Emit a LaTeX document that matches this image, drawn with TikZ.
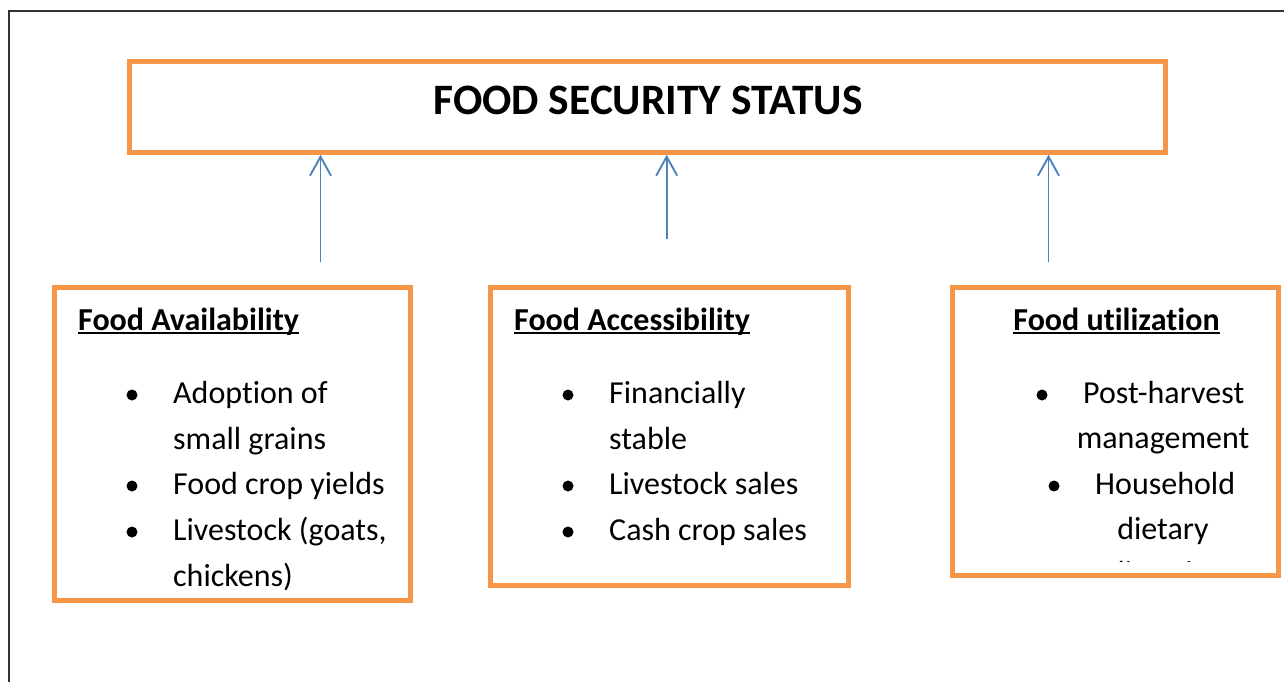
\documentclass[tikz,border=0pt]{standalone}
\usepackage{fontspec}
\setmainfont{Carlito}[Ligatures={NoCommon}]
\usetikzlibrary{arrows.meta}
\definecolor{boxorange}{HTML}{F79646}
\definecolor{arrblue}{HTML}{4F81BD}
\definecolor{framegray}{HTML}{333333}
\tikzset{
  obox/.style={draw=boxorange, line width=4.5pt, rectangle, inner sep=0pt},
  titletext/.style={inner sep=0pt, anchor=base, font=\fontsize{43.4}{50}\selectfont\bfseries},
  headtext/.style={inner sep=0pt, anchor=base west, font=\fontsize{32}{38}\selectfont\bfseries},
  itemtext/.style={inner sep=0pt, anchor=base west, font=\fontsize{32}{38}\selectfont},
  itemc/.style={inner sep=0pt, anchor=base, font=\fontsize{32}{38}\selectfont},
  bul/.style={circle, fill=black, inner sep=0pt, minimum size=11pt},
  uline/.style={line width=2pt, black},
  upline/.style={draw=arrblue, line width=1.9pt, -{Straight Barb[length=19pt,width=21pt,line width=1.9pt]}},
  frameline/.style={draw=framegray, line width=1.2pt}
}
\begin{document}
\begin{tikzpicture}[x=1pt,y=-1pt]
\useasboundingbox (0,0) rectangle (1284,682);
\fill[white] (0,0) rectangle (1284,682);
% outer frame
\draw[frameline] (9,690) -- (9,11) -- (1290,11);

% top box
\node[obox, minimum width=1036pt, minimum height=91pt] (top) at (647.5,107) {};
\node[titletext] (title) at (648,114) {FOOD SECURITY STATUS};

% lower boxes
\node[obox, minimum width=356pt, minimum height=313pt] (b1) at (232.5,444) {};
\node[obox, minimum width=358pt, minimum height=298pt] (b2) at (669.5,436.5) {};
\node[obox, minimum width=326pt, minimum height=288pt] (b3) at (1115.5,431.5) {};

% arrows
\coordinate (s1) at (320.5,262);
\coordinate (s2) at (666.7,239);
\coordinate (s3) at (1048.5,262);
\draw[upline] (s1) -- (s1 |- top.south);
\draw[upline] (s2) -- (s2 |- top.south);
\draw[upline] (s3) -- (s3 |- top.south);

% box 1
\node[headtext] (h1) at (78,330) {Food Availability};
\draw[uline] ([yshift=-3pt]h1.base west) -- ([yshift=-3pt]h1.base east);
\node[bul] (b1d1) at (132,395) {};
\node[itemtext] (b1t1) at (173,403) {Adoption of};
\node[itemtext] (b1t2) at (173,449) {small grains};
\node[bul] (b1d2) at (132,486) {};
\node[itemtext] (b1t3) at (173,494) {Food crop yields};
\node[bul] (b1d3) at (132,532) {};
\node[itemtext] (b1t4) at (173,540) {Livestock (goats,};
\node[itemtext] (b1t5) at (173,586) {chickens)};

% box 2
\node[headtext] (h2) at (514,330) {Food Accessibility};
\draw[uline] ([yshift=-3pt]h2.base west) -- ([yshift=-3pt]h2.base east);
\node[bul] (b2d1) at (568,395) {};
\node[itemtext] (b2t1) at (609,403) {Financially};
\node[itemtext] (b2t2) at (609,449) {stable};
\node[bul] (b2d2) at (568,486) {};
\node[itemtext] (b2t3) at (609,494) {Livestock sales};
\node[bul] (b2d3) at (568,532) {};
\node[itemtext] (b2t4) at (609,540) {Cash crop sales};

% box 3
\node[headtext, anchor=base] (h3) at (1116.5,330) {Food utilization};
\draw[uline] ([yshift=-3pt]h3.base west) -- ([yshift=-3pt]h3.base east);
\node[bul] (b3d1) at (1042,395) {};
\node[itemtext] (b3t1) at (1083,403) {Post-harvest};
\node[itemc] (b3t2) at (1163,448) {management};
\node[bul] (b3d2) at (1054,486) {};
\node[itemtext] (b3t3) at (1095,494) {Household};
\node[itemc] (b3t4) at (1163,539) {dietary};
\begin{scope}
  \clip (955,300) rectangle (1276,561);
  \node[itemc] (b3t5) at (1163,583) {diversity};
\end{scope}
\end{tikzpicture}
\end{document}
